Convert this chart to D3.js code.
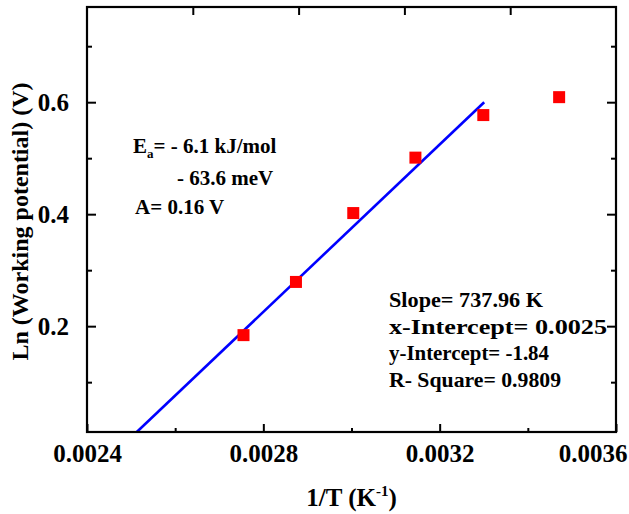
<!DOCTYPE html>
<html>
<head>
<meta charset="utf-8">
<script src="https://cdn.jsdelivr.net/npm/d3@7"></script>
<style>
  html, body { margin: 0; padding: 0; background: #fff; }
  svg text { font-family: "Liberation Serif", "Times New Roman", serif; font-weight: bold; fill: #000; }
</style>
</head>
<body>
<svg id="chart" width="629" height="514"></svg>
<script>
// ---- data ----
const invT = [0.002755, 0.002874, 0.003004, 0.003145, 0.003299, 0.003471];
const lnV  = [0.184, 0.279, 0.402, 0.501, 0.577, 0.609];
const fitX = [0.002513, 0.003301];
const fitY = [0.011, 0.600];
const xMajorTicks = [0.0024, 0.0028, 0.0032, 0.0036];
const xMinorTicks = [0.0026, 0.0030, 0.0034];
const yMajorTicks = [0.2, 0.4, 0.6];
const yMinorTicks = [0.1, 0.3, 0.5, 0.7];
const topTicks = [0.2, 0.4, 0.6, 0.8];
const leftNotes = ["= - 6.1 kJ/mol", "- 63.6 meV", "A= 0.16 V"];
const rightNotes = ["Slope= 737.96 K", "x-Intercept= 0.0025", "y-Intercept= -1.84", "R- Square= 0.9809"];

// ---- layout ----
const L = 87, R = 616, T = 7, B = 432;
const rightNoteWidths = [154, 218, 160, 172];
const svg = d3.select("#chart");
const x = d3.scaleLinear().domain([0.0024, 0.0036]).range([L, R]);
const y = d3.scaleLinear().domain([0.011, 0.77]).range([B, T]);
const xTop = d3.scaleLinear().domain([0, 1]).range([L, R]);

const fmtX = d3.format(".4f");
const fmtY = d3.format(".1f");

// clip
svg.append("defs").append("clipPath").attr("id", "clip")
  .append("rect").attr("x", L).attr("y", T).attr("width", R - L).attr("height", B - T);

// fit line
const line = d3.line().x(d => x(d[0])).y(d => y(d[1]));
svg.append("path")
  .datum(fitX.map((v, i) => [v, fitY[i]]))
  .attr("clip-path", "url(#clip)")
  .attr("d", line)
  .attr("fill", "none").attr("stroke", "#0000ff").attr("stroke-width", 2.6);

// points
const S = 12;
svg.append("g").selectAll("rect").data(invT).join("rect")
  .attr("x", (d) => x(d) - S / 2)
  .attr("y", (d, i) => y(lnV[i]) - S / 2)
  .attr("width", S).attr("height", S)
  .attr("fill", "#ff0000");

function styleAxis(g) {
  g.select(".domain").remove();
  g.selectAll(".tick line").attr("stroke", "#000").attr("stroke-width", 2);
  g.selectAll(".tick text").style("font-size", "25px").style("font-family", "'Liberation Serif', 'Times New Roman', serif").style("font-weight", "bold");
}

// bottom axis
const gxb = svg.append("g").attr("transform", `translate(0,${B})`)
  .call(d3.axisBottom(x).tickValues(xMajorTicks).tickFormat(fmtX).tickSize(-8).tickPadding(12));
styleAxis(gxb);
gxb.selectAll(".tick text").filter(d => d === 0.0036).attr("text-anchor", "end").attr("dx", 11);
const gxbm = svg.append("g").attr("transform", `translate(0,${B})`)
  .call(d3.axisBottom(x).tickValues(xMinorTicks).tickFormat("").tickSize(-4));
styleAxis(gxbm);

// top axis (ticks only)
const gxt = svg.append("g").attr("transform", `translate(0,${T})`)
  .call(d3.axisTop(xTop).tickValues(topTicks).tickFormat("").tickSize(-8));
styleAxis(gxt);

// left axis
const gyl = svg.append("g").attr("transform", `translate(${L},0)`)
  .call(d3.axisLeft(y).tickValues(yMajorTicks).tickFormat(fmtY).tickSize(-9).tickPadding(18));
styleAxis(gyl);
const gylm = svg.append("g").attr("transform", `translate(${L},0)`)
  .call(d3.axisLeft(y).tickValues(yMinorTicks).tickFormat("").tickSize(-5));
styleAxis(gylm);

// right axis
const gyr = svg.append("g").attr("transform", `translate(${R},0)`)
  .call(d3.axisRight(y).tickValues(yMajorTicks).tickFormat("").tickSize(-9));
styleAxis(gyr);
const gyrm = svg.append("g").attr("transform", `translate(${R},0)`)
  .call(d3.axisRight(y).tickValues(yMinorTicks).tickFormat("").tickSize(-5));
styleAxis(gyrm);

// frame
svg.append("rect").attr("x", L).attr("y", T).attr("width", R - L).attr("height", B - T)
  .attr("fill", "none").attr("stroke", "#000").attr("stroke-width", 2.2);

// axis titles
svg.append("text").attr("transform", `translate(28,${(T + B) / 2 + 2}) rotate(-90)`)
  .attr("text-anchor", "middle").style("font-size", "24px")
  .text("Ln (Working potential) (V)");

const xt = svg.append("text").attr("x", (L + R) / 2).attr("y", 506)
  .attr("text-anchor", "middle").style("font-size", "25px");
xt.append("tspan").text("1/T (K");
xt.append("tspan").attr("dy", -10).style("font-size", "15px").text("-1");
xt.append("tspan").attr("dy", 10).text(")");

// left notes
const n1 = svg.append("text").attr("x", 133).attr("y", 153).style("font-size", "21px");
n1.append("tspan").text("E");
n1.append("tspan").attr("dy", 5).style("font-size", "13px").text("a");
n1.append("tspan").attr("dy", -5).text(leftNotes[0]);
svg.append("text").attr("x", 177).attr("y", 185).style("font-size", "21px").text(leftNotes[1]);
svg.append("text").attr("x", 135).attr("y", 214).style("font-size", "21px").text(leftNotes[2]);

// right notes
svg.append("g").selectAll("text").data(rightNotes).join("text")
  .attr("x", 389).attr("y", (d, i) => 307 + i * 26.7)
  .attr("textLength", (d, i) => rightNoteWidths[i])
  .attr("lengthAdjust", "spacingAndGlyphs")
  .style("font-size", "22px").text(d => d);
</script>
</body>
</html>
